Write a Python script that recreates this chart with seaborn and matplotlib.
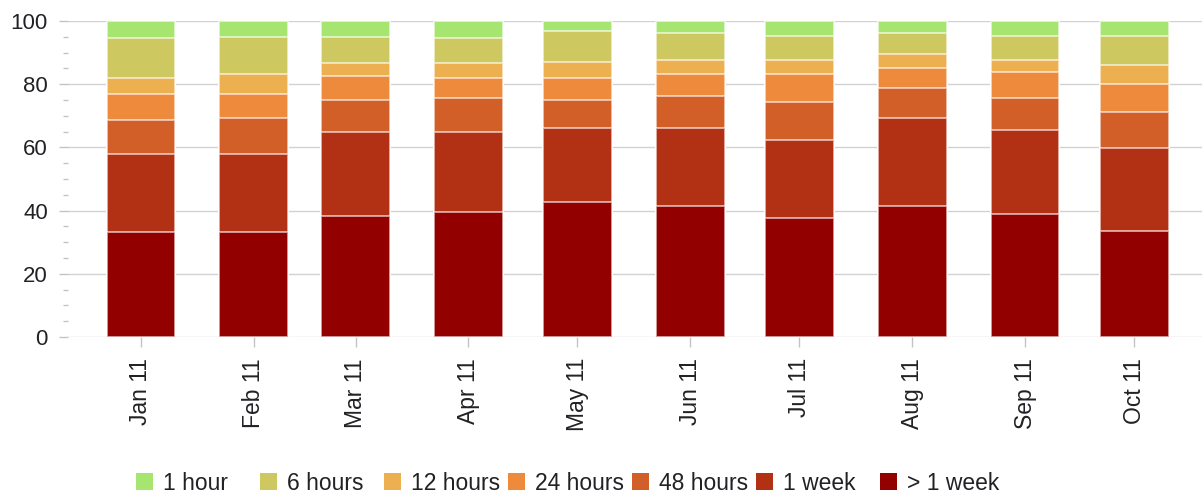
import matplotlib
matplotlib.use("Agg")
import matplotlib.pyplot as plt
from matplotlib.patches import Patch
from matplotlib.ticker import MultipleLocator
import numpy as np
import pandas as pd
import seaborn as sns

# Monthly response-time distribution (percent of items per bucket)
month_labels = ["Jan 11", "Feb 11", "Mar 11", "Apr 11", "May 11",
                "Jun 11", "Jul 11", "Aug 11", "Sep 11", "Oct 11"]
month_starts = pd.date_range("2011-01-01", periods=10, freq="MS")

categories = ["1 hour", "6 hours", "12 hours", "24 hours", "48 hours", "1 week", "> 1 week"]
colors = ["#a6e570", "#cdc960", "#ecb050", "#ed8a3b", "#d15f27", "#b23014", "#930000"]

hour_1 = [5.3, 5.1, 5.1, 5.3, 3.3, 3.9, 4.7, 3.9, 4.7, 4.6]
hours_6 = [12.7, 11.6, 8.3, 8.1, 9.6, 8.4, 7.6, 6.6, 7.6, 9.3]
hours_12 = [5.1, 6.4, 4.0, 4.6, 5.1, 4.4, 4.4, 4.3, 3.7, 6.0]
hours_24 = [8.2, 7.6, 7.6, 6.4, 7.0, 7.0, 8.9, 6.4, 8.4, 8.9]
hours_48 = [10.7, 11.3, 10.0, 10.7, 8.8, 10.1, 12.0, 9.4, 10.0, 11.4]
week_1 = [24.8, 24.8, 26.8, 25.4, 23.6, 24.8, 24.8, 28.0, 26.8, 26.1]
over_week_1 = [33.2, 33.2, 38.2, 39.5, 42.6, 41.4, 37.6, 41.4, 38.8, 33.7]

series = [hour_1, hours_6, hours_12, hours_24, hours_48, week_1, over_week_1]

sns.set_style("white")
plt.rcParams["font.family"] = ["Liberation Sans", "DejaVu Sans"]

# Day offsets from the first month, used as a native numeric x scale
days = np.asarray((month_starts - month_starts[0]).days, dtype=float)

df = pd.DataFrame({"day": days, "month": month_labels})
for name, vals in zip(categories, series):
    df[name] = vals

W, H = 1202, 495
fig = plt.figure(figsize=(W / 100, H / 100), dpi=100)
ax = fig.add_axes([68 / W, 1 - 337 / H, 1 - 68 / W, (337 - 21) / H])

# Stacked bars: draw cumulative totals from the top bucket down
stack_bottom_up = list(reversed(categories))
cum = df[stack_bottom_up].cumsum(axis=1)
for name, col in zip(categories, colors):
    sns.barplot(x=df["day"], y=cum[name], native_scale=True, orient="x",
                color=col, saturation=1, width=0.672, errorbar=None,
                edgecolor=(1, 1, 1, 0.65), linewidth=1.3, ax=ax, zorder=2)

ax.set_ylim(0, 100)
ax.set_xlim(-20.0, 291.6)
ax.set_xlabel("")
ax.set_ylabel("")

ax.yaxis.set_major_locator(MultipleLocator(20))
ax.yaxis.set_minor_locator(MultipleLocator(5))
ax.yaxis.grid(True, which="major", color="#d2d2d2", linewidth=1.0)
ax.set_axisbelow(True)

ax.set_xticks(days)
ax.set_xticklabels(month_labels, rotation=90)

text_color = "#222226"
tick_color = "#c4c4c4"
ax.tick_params(axis="y", which="both", left=True, direction="out")
ax.tick_params(axis="y", which="major", length=6.5, width=1, color=tick_color,
               pad=8, labelsize=16, labelcolor=text_color)
ax.tick_params(axis="y", which="minor", length=3.6, width=1, color=tick_color)
ax.tick_params(axis="x", which="major", bottom=True, direction="out", length=7.2,
               width=1, color=tick_color, pad=8, labelsize=16.5,
               labelcolor=text_color)

for s in ax.spines.values():
    s.set_visible(False)

# Legend row: one fixed-width slot per bucket
slot_left = 136
slot_width = 124
for i, (name, col) in enumerate(zip(categories, colors)):
    fig.legend([Patch(facecolor=col, edgecolor="none")], [name],
               loc="center left",
               bbox_to_anchor=((slot_left + i * slot_width) / W, 1 - 483 / H),
               frameon=False, handlelength=0.74, handleheight=0.74,
               handletextpad=0.44, fontsize=16.5, labelcolor=text_color,
               borderaxespad=0, borderpad=0)

fig.savefig("out.png", dpi=100)
